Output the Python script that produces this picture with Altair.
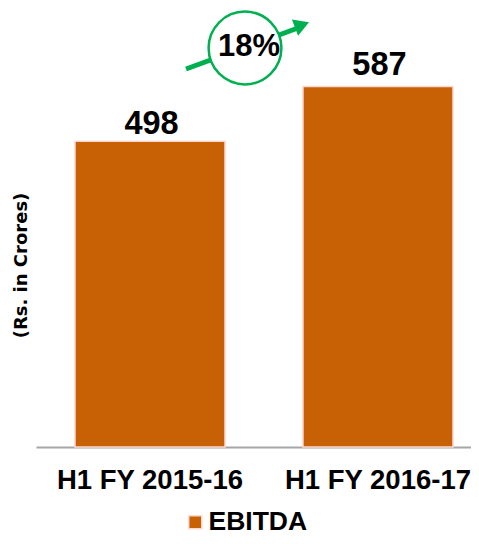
import altair as alt
import pandas as pd

periods = ["H1 FY 2015-16", "H1 FY 2016-17"]
ebitda = [498, 587]
series_name = "EBITDA"
growth_label = "18%"
y_title = "(Rs. in Crores)"

FONT = "Liberation Sans"
ORANGE = "#C86005"
PINK = "#FBD9D2"
GREEN = "#00B050"

df = pd.DataFrame({"period": periods, "value": ebitda, "series": [series_name] * 2})
one = pd.DataFrame({"label": [growth_label]})

x = alt.X(
    "period:N", sort=periods, title=None,
    scale=alt.Scale(paddingInner=0.342, paddingOuter=0.125, align=0.684),
    axis=alt.Axis(labelAngle=0, labelFont=FONT, labelFontSize=27.5, labelFontWeight="bold",
                  labelColor="#000000", labelPadding=19, ticks=False, domainColor="#A6A6A6",
                  domainWidth=2, labelOverlap=False, labelLimit=300),
)
y = alt.Y(
    "value:Q", title=y_title,
    scale=alt.Scale(domain=[0, 715], nice=False, zero=True),
    axis=alt.Axis(labels=False, ticks=False, domain=False, grid=False, titleFont="DejaVu Sans",
                  titleFontSize=18, titleFontWeight="bold", titleColor="#000000",
                  titlePadding=4, titleY=257, titleX=-6),
)

bars = alt.Chart(df).mark_bar(stroke=PINK, strokeWidth=1.5, size=150).encode(
    x=x, y=y,
    color=alt.Color("series:N", scale=alt.Scale(domain=[series_name], range=[ORANGE]),
                    legend=alt.Legend(title=None, orient="none", legendX=146, legendY=501,
                                      symbolType="square", symbolSize=170, symbolStrokeColor=PINK,
                                      symbolStrokeWidth=1.5, labelFont=FONT, labelFontSize=26.5,
                                      labelFontWeight="bold", labelColor="#000000", labelOffset=0)),
)


def value_label(period, lift):
    return alt.Chart(df).transform_filter(alt.datum.period == period).mark_text(
        font=FONT, fontSize=32.5, fontWeight="bold", color="#000000",
        baseline="bottom", dx=1.5, dy=-lift).encode(
        x=alt.X("period:N", sort=periods), y=alt.Y("value:Q"), text=alt.Text("value:Q"))


label_a = value_label(periods[0], 0)
label_b = value_label(periods[1], 5)

shaft = alt.Chart(one).mark_rule(color=GREEN, strokeWidth=5).encode(
    x=alt.value(150), y=alt.value(61), x2=alt.value(262), y2=alt.value(20))
head = alt.Chart(one).mark_point(shape="triangle-up", filled=True, color=GREEN, opacity=1,
                                 size=300, angle=69).encode(
    x=alt.value(266), y=alt.value(17))
circle = alt.Chart(one).mark_point(shape="circle", filled=False, fill="#FFFFFF", fillOpacity=1,
                                   stroke=GREEN, strokeWidth=2.5, opacity=1, size=5300).encode(
    x=alt.value(209), y=alt.value(40))
growth = alt.Chart(one).mark_text(font=FONT, fontSize=31, fontWeight="bold", color="#000000",
                                  baseline="alphabetic").encode(
    x=alt.value(213), y=alt.value(48), text="label:N")

chart = alt.layer(bars, label_a, label_b, shaft, head, circle, growth).properties(
    width=435, height=439,
    padding={"left": 28, "top": 0, "right": 0, "bottom": 89},
    autosize=alt.AutoSizeParams(type="none"),
).configure_view(stroke=None).configure_axis(grid=False)

chart.save("out.html", embed_options={"renderer": "svg", "actions": False})
